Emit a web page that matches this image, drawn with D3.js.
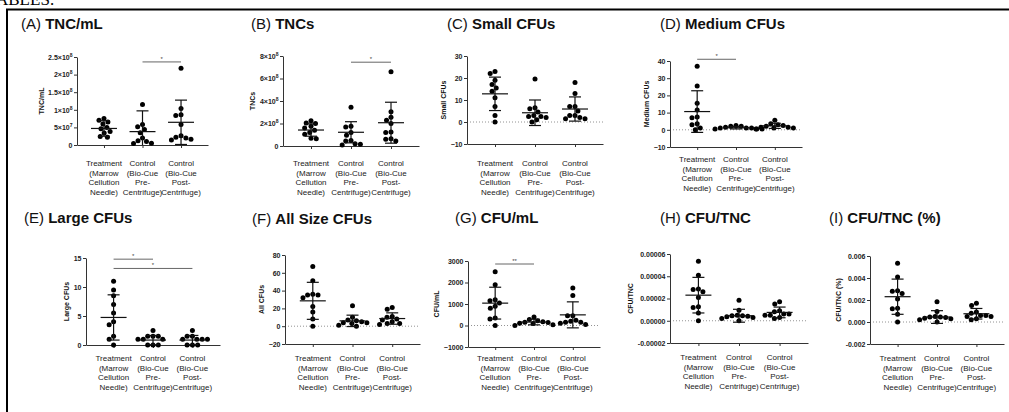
<!DOCTYPE html>
<html>
<head>
<meta charset="utf-8">
<script src="https://cdn.jsdelivr.net/npm/d3@7"></script>
<style>
  body { margin: 0; background: #fff; }
  svg { display: block; }
  text { font-family: "Liberation Sans", Arial, sans-serif; }
</style>
</head>
<body>
<svg id="fig" width="1009" height="412"></svg>
<script>
// group names, one line per entry
var groupLabels = [
    ["Treatment", "(Marrow", "Cellution", "Needle)"],
    ["Control", "(Bio-Cue", "Pre-", "Centrifuge)"],
    ["Control", "(Bio-Cue", "Post-", "Centrifuge)"]
];

// (A) TNC/mL
var tncMlValues = [
    [7.5e7, 7.0e7, 6.5e7, 6.0e7, 5.0e7, 4.6e7, 3.8e7, 3.4e7, 2.4e7, 2.2e7],
    [1.15e8, 5.8e7, 5.2e7, 4.4e7, 3.5e7, 2.0e7, 1.2e7, 1.0e7, 5e6, 4e6],
    [2.18e8, 1.04e8, 8.6e7, 8.4e7, 5.8e7, 2.6e7, 2.2e7, 2.0e7, 1.6e7, 1.4e7]
];
var tncMlStats = [[4.7e7, 2.2e7], [3.8e7, 5.9e7], [6.45e7, 6.3e7]];
var tncMlTicks = [0, 5e7, 1e8, 1.5e8, 2e8, 2.5e8];
var tncMlTickLabels = ["0", "5×10^7", "1×10^8", "1.5×10^8", "2×10^8", "2.5×10^8"];

// (B) TNCs
var tncValues = [
    [2.25e8, 2.05e8, 2.0e8, 1.75e8, 1.6e8, 1.4e8, 1.2e8, 1.05e8, 7e7, 6.5e7],
    [3.45e8, 1.75e8, 1.7e8, 1.2e8, 9.5e7, 5e7, 4.5e7, 2e7, 1.5e7, 1e7],
    [6.6e8, 3.05e8, 2.55e8, 2.3e8, 2.0e8, 1.25e8, 1.2e8, 6.5e7, 6e7, 4.5e7]
];
var tncStats = [[1.42e8, 5.5e7], [1.22e8, 9.4e7], [2.07e8, 1.82e8]];
var tncTicks = [0, 2e8, 4e8, 6e8, 8e8];
var tncTickLabels = ["0", "2×10^8", "4×10^8", "6×10^8", "8×10^8"];

// (C) Small CFUs
var smallValues = [
    [23, 22, 19, 17, 15.5, 14, 11, 7, 3, 0],
    [19.5, 6.5, 6, 4.5, 3, 2.5, 2.5, 2, 1, 0],
    [18, 13, 7, 7, 5, 3, 3, 2, 1.5, 1.5]
];
var smallStats = [[12.8, 7.6], [4.2, 5.8], [5.9, 5.5]];
var smallTicks = [-10, 0, 10, 20, 30];

// (D) Medium CFUs
var mediumValues = [
    [37, 25.5, 15.5, 11.5, 7.5, 7, 3.5, 3, 1, 0],
    [2.5, 2, 2, 1.5, 1, 1, 1, 0.5, 0.5, 0.5],
    [5.5, 3.5, 3, 2.5, 2, 1.5, 1.5, 1, 1, 0.5]
];
var mediumStats = [[10.6, 12.1], [1.2, 0.7], [2.3, 1.5]];
var mediumTicks = [-10, 0, 10, 20, 30, 40];

// (E) Large CFUs
var largeValues = [
    [11, 9.5, 8.5, 7, 5.5, 4, 3.5, 1.5, 1, 0],
    [2.5, 1.5, 1.5, 1.5, 1, 1, 1, 0, 0, 0],
    [2.5, 1.5, 1.5, 1, 1, 1, 1, 0, 0, 0]
];
var largeStats = [[4.75, 3.9], [0.85, 0.8], [0.85, 0.8]];
var largeTicks = [0, 5, 10, 15];

// (F) All Size CFUs
var allValues = [
    [67, 51, 36, 35, 35, 32, 22, 16, 8, 0],
    [23, 10, 7, 6, 5, 4, 4, 3, 1, 0],
    [21, 19, 11, 10, 8, 7, 5, 3, 3, 2]
];
var allStats = [[28.5, 20.8], [6, 6.4], [8.6, 6.4]];
var allTicks = [-20, 0, 20, 40, 60, 80];

// (G) CFU/mL
var cfuMlValues = [
    [2500, 1900, 1200, 1150, 1050, 900, 800, 350, 300, 0],
    [400, 280, 220, 180, 150, 140, 110, 90, 40, 0],
    [1750, 1400, 450, 450, 250, 200, 150, 150, 100, 50]
];
var cfuMlStats = [[1040, 740], [160, 130], [495, 605]];
var cfuMlTicks = [-1000, 0, 1000, 2000, 3000];

// (H) CFU/TNC
var cfuTncValues = [
    [5.35e-5, 4.1e-5, 2.85e-5, 2.8e-5, 2.6e-5, 2.1e-5, 1.25e-5, 1.2e-5, 0.7e-5, 0],
    [1.85e-5, 0.95e-5, 0.5e-5, 0.45e-5, 0.45e-5, 0.4e-5, 0.35e-5, 0.3e-5, 0.2e-5, 0],
    [1.7e-5, 1.5e-5, 0.9e-5, 0.8e-5, 0.6e-5, 0.6e-5, 0.5e-5, 0.5e-5, 0.3e-5, 0.2e-5]
];
var cfuTncStats = [[2.3e-5, 1.6e-5], [0.45e-5, 0.58e-5], [0.75e-5, 0.48e-5]];
var cfuTncTicks = [-2e-5, 0, 2e-5, 4e-5, 6e-5];
var cfuTncTickLabels = ["-0.00002", "0.00000", "0.00002", "0.00004", "0.00006"];

// (I) CFU/TNC (%)
var cfuPctValues = [
    [5.35e-3, 4.1e-3, 2.85e-3, 2.8e-3, 2.6e-3, 2.1e-3, 1.25e-3, 1.2e-3, 0.7e-3, 0],
    [1.85e-3, 0.95e-3, 0.5e-3, 0.45e-3, 0.45e-3, 0.4e-3, 0.35e-3, 0.3e-3, 0.2e-3, 0],
    [1.7e-3, 1.5e-3, 0.9e-3, 0.8e-3, 0.6e-3, 0.6e-3, 0.5e-3, 0.5e-3, 0.3e-3, 0.2e-3]
];
var cfuPctStats = [[2.3e-3, 1.6e-3], [0.45e-3, 0.58e-3], [0.75e-3, 0.48e-3]];
var cfuPctTicks = [-0.002, 0, 0.002, 0.004, 0.006];
var cfuPctTickLabels = ["-0.002", "0.000", "0.002", "0.004", "0.006"];

// significance bars: [from group, to group, height in data units, mark]
var tncMlSig = [[1, 2, 2.36e8, "*"]];
var tncSig = [[1, 2, 7.45e8, "*"]];
var mediumSig = [[0, 1, 41, "*"]];
var largeSig = [[0, 1, 14.8, "*"], [0, 2, 13.2, "*"]];
var cfuMlSig = [[0, 1, 2860, "**"]];

var panels = [
    {tag: "(A)", title: "TNC/mL", yLabel: "TNC/mL", values: tncMlValues, stats: tncMlStats, ticks: tncMlTicks, tickLabels: tncMlTickLabels, sig: tncMlSig,
     x0: 77, x1: 208, yB: 145, yT: 57, titleX: 21, titleY: 29, labelY: 166},
    {tag: "(B)", title: "TNCs", yLabel: "TNCs", values: tncValues, stats: tncStats, ticks: tncTicks, tickLabels: tncTickLabels, sig: tncSig,
     x0: 283, x1: 419, yB: 146, yT: 56, titleX: 251, titleY: 29, labelY: 166},
    {tag: "(C)", title: "Small CFUs", yLabel: "Small CFUs", values: smallValues, stats: smallStats, ticks: smallTicks, sig: [],
     x0: 467, x1: 603, yB: 144, yT: 56, titleX: 447, titleY: 29, labelY: 166},
    {tag: "(D)", title: "Medium CFUs", yLabel: "Medium CFUs", values: mediumValues, stats: mediumStats, ticks: mediumTicks, sig: mediumSig,
     x0: 670, x1: 802, yB: 147, yT: 61, titleX: 660, titleY: 29, labelY: 162},
    {tag: "(E)", title: "Large CFUs", yLabel: "Large CFUs", values: largeValues, stats: largeStats, ticks: largeTicks, sig: largeSig,
     x0: 86, x1: 220, yB: 345, yT: 258, titleX: 24, titleY: 223, labelY: 361},
    {tag: "(F)", title: "All Size CFUs", yLabel: "All CFUs", values: allValues, stats: allStats, ticks: allTicks, sig: [],
     x0: 285, x1: 420, yB: 344, yT: 255, titleX: 252, titleY: 224, labelY: 361},
    {tag: "(G)", title: "CFU/mL", yLabel: "CFU/mL", values: cfuMlValues, stats: cfuMlStats, ticks: cfuMlTicks, sig: cfuMlSig,
     x0: 468, x1: 600, yB: 347, yT: 261, titleX: 455, titleY: 223, labelY: 361},
    {tag: "(H)", title: "CFU/TNC", yLabel: "CFU/TNC", values: cfuTncValues, stats: cfuTncStats, ticks: cfuTncTicks, tickLabels: cfuTncTickLabels, sig: [],
     x0: 670, x1: 808, yB: 343, yT: 254, titleX: 660, titleY: 223, labelY: 360},
    {tag: "(I)", title: "CFU/TNC (%)", yLabel: "CFU/TNC (%)", values: cfuPctValues, stats: cfuPctStats, ticks: cfuPctTicks, tickLabels: cfuPctTickLabels, sig: [],
     x0: 870, x1: 1004, yB: 344, yT: 256, titleX: 829, titleY: 223, labelY: 361}
];

var svg = d3.select("#fig");
svg.append("rect").attr("width", 1009).attr("height", 412).attr("fill", "#fff");

// cut-off heading of the page above the figure
svg.append("text")
    .attr("x", -4).attr("y", 5)
    .style("font-family", "'Liberation Serif', 'Times New Roman', serif")
    .style("font-size", "17px")
    .text("ABLES:");

// frame
svg.append("path")
    .attr("d", "M7,420 V9.5 H1012")
    .attr("fill", "none").attr("stroke", "#000").attr("stroke-width", 2);

// label like "2×10^8" -> mantissa plus superscript
function setTickText(sel) {
    sel.each(function() {
        var t = d3.select(this), s = t.text();
        var k = s.indexOf("^");
        if (k < 0) return;
        t.text(s.slice(0, k));
        t.append("tspan").attr("dy", -3).style("font-size", "5px").text(s.slice(k + 1));
    });
}

// beeswarm: each dot goes to the free spot nearest the group centre
function swarm(vals, y, cx, r) {
    var d = 2 * r + 0.3;
    var placed = [];
    var order = vals.map(function(v, i) { return i; })
        .sort(function(a, b) { return vals[b] - vals[a]; });
    order.forEach(function(i) {
        var py = y(vals[i]);
        var blocks = [], cands = [0];
        placed.forEach(function(p) {
            var dy = p.y - py;
            if (Math.abs(dy) < d) {
                var w = Math.sqrt(d * d - dy * dy);
                blocks.push([p.x - cx - w, p.x - cx + w]);
                cands.push(p.x - cx - w, p.x - cx + w);
            }
        });
        cands.sort(function(a, b) { return Math.abs(a) - Math.abs(b); });
        var off = cands.find(function(c) {
            return blocks.every(function(b) { return c <= b[0] + 1e-6 || c >= b[1] - 1e-6; });
        });
        placed.push({x: cx + off, y: py});
    });
    return placed;
}

panels.forEach(function(p) {
    var g = svg.append("g");
    var lo = p.ticks[0], hi = p.ticks[p.ticks.length - 1];

    var x = d3.scalePoint().domain([0, 1, 2]).range([p.x0, p.x1]).padding(0.7);
    var y = d3.scaleLinear().domain([lo, hi]).range([p.yB, p.yT]);

    // title
    var title = g.append("text").attr("x", p.titleX).attr("y", p.titleY)
        .style("font-size", "15px").attr("fill", "#111");
    title.append("tspan").text(p.tag + " ");
    title.append("tspan").style("font-weight", "bold").text(p.title);

    // dotted zero line
    if (lo < 0) {
        g.append("line")
            .attr("x1", p.x0).attr("x2", p.x1)
            .attr("y1", y(0)).attr("y2", y(0))
            .attr("stroke", "#777").attr("stroke-width", 0.8)
            .attr("stroke-dasharray", "1,2");
    }

    // y axis
    var yAxis = d3.axisLeft(y)
        .tickValues(p.ticks)
        .tickSize(3).tickSizeOuter(0).tickPadding(1.5)
        .tickFormat(function(d, i) { return p.tickLabels ? p.tickLabels[i] : d3.format("d")(d); });
    var ya = g.append("g").attr("transform", "translate(" + p.x0 + ",0)").call(yAxis);
    ya.selectAll("text").style("font-size", "7px").style("font-weight", "bold")
        .attr("fill", "#222").call(setTickText);

    var maxW = 0;
    ya.selectAll("text").each(function() { maxW = Math.max(maxW, this.getComputedTextLength()); });

    // x axis
    var xAxis = d3.axisBottom(x).tickSize(3).tickSizeOuter(0).tickFormat("");
    g.append("g").attr("transform", "translate(0," + p.yB + ")").call(xAxis);

    g.selectAll(".domain, .tick line").attr("stroke", "#333").attr("stroke-width", 1);

    // y label
    g.append("text")
        .attr("transform", "translate(" + (p.x0 - maxW - 9) + "," + ((p.yB + p.yT) / 2) + ") rotate(-90)")
        .attr("text-anchor", "middle")
        .style("font-size", "7px").style("font-weight", "bold").attr("fill", "#111")
        .text(p.yLabel);

    // category labels
    groupLabels.forEach(function(lines, gi) {
        var t = g.append("text").attr("text-anchor", "middle")
            .style("font-size", "8px").attr("fill", "#222");
        lines.forEach(function(line, li) {
            t.append("tspan").attr("x", x(gi)).attr("y", p.labelY + li * 9.7).text(line);
        });
    });

    // dots
    p.values.forEach(function(vals, gi) {
        var pts = swarm(vals, y, x(gi), 2.5);
        g.selectAll(null).data(pts).enter().append("circle")
            .attr("cx", function(d) { return d.x; })
            .attr("cy", function(d) { return d.y; })
            .attr("r", 2.5).attr("fill", "#000");
    });

    // mean and SD
    p.stats.forEach(function(s, gi) {
        var cx = x(gi);
        var top = y(Math.min(hi, s[0] + s[1])), bot = y(Math.max(lo, s[0] - s[1]));
        g.append("line").attr("x1", cx - 13).attr("x2", cx + 13)
            .attr("y1", y(s[0])).attr("y2", y(s[0]))
            .attr("stroke", "#111").attr("stroke-width", 1.2);
        g.append("line").attr("x1", cx).attr("x2", cx).attr("y1", top).attr("y2", bot)
            .attr("stroke", "#111").attr("stroke-width", 1.2);
        g.append("line").attr("x1", cx - 6).attr("x2", cx + 6).attr("y1", top).attr("y2", top)
            .attr("stroke", "#111").attr("stroke-width", 1.2);
        if (s[0] - s[1] > lo) {
            g.append("line").attr("x1", cx - 6).attr("x2", cx + 6).attr("y1", bot).attr("y2", bot)
                .attr("stroke", "#111").attr("stroke-width", 1.2);
        }
    });

    // significance bars
    p.sig.forEach(function(s) {
        var sy = y(s[2]);
        g.append("line").attr("x1", x(s[0])).attr("x2", x(s[1]))
            .attr("y1", sy).attr("y2", sy)
            .attr("stroke", "#666").attr("stroke-width", 1);
        g.append("text").attr("x", (x(s[0]) + x(s[1])) / 2).attr("y", sy - 1)
            .attr("text-anchor", "middle").style("font-size", "6px").attr("fill", "#444")
            .text(s[3]);
    });
});
</script>
</body>
</html>
